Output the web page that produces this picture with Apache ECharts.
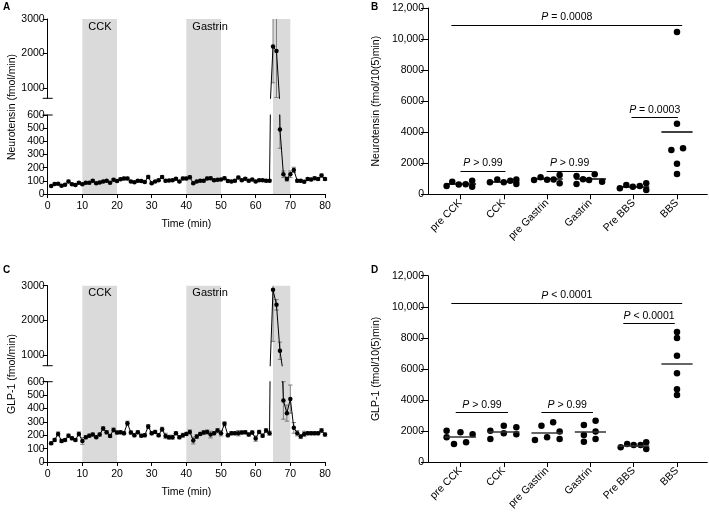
<!DOCTYPE html>
<html><head><meta charset="utf-8">
<script src="https://cdn.jsdelivr.net/npm/echarts@6/dist/echarts.min.js"></script>
<style>html,body{margin:0;padding:0;background:#fff}#c{width:709px;height:514px}</style>
</head><body><div id="c"></div>
<script>
// ---------- DATA ----------
const timeMin = []; for (let t = 1; t <= 80; t++) timeMin.push(t);
const ntValues = [60,76,78,62,70,95,75,68,85,75, 85,85,100,82,88,95,100,85,108,98,
  112,118,118,95,90,100,98,92,130,82, 95,105,130,100,102,105,115,95,118,118,
  128,82,95,100,100,118,120,105,108,110, 120,98,95,100,125,105,115,100,110,95,
  105,105,100,100,2200,2075,490,150,113,150, 183,100,100,93,113,110,120,113,140,113];
const ntSem = [6,8,8,6,8,10,8,6,8,8, 8,8,10,8,8,8,8,8,10,8,
  10,10,10,8,8,8,8,8,12,8, 8,8,10,8,8,8,10,8,10,10,
  12,8,8,8,8,10,10,8,8,8, 10,8,8,8,10,8,10,8,8,8,
  8,8,8,8,1050,1350,143,25,15,25, 20,10,10,8,10,10,10,10,12,10];
const glpValues = [140,165,210,157,165,197,177,165,210,157, 185,197,205,185,205,250,222,195,240,220,
  222,215,290,220,200,222,197,200,265,215, 225,200,245,195,185,185,215,185,200,210,
  225,160,190,210,220,225,205,215,235,215, 285,200,215,215,215,220,222,205,220,175,
  225,197,235,215,2880,2450,1130,460,365,470, 255,215,190,210,215,215,215,215,235,205];
const glpSem = [10,12,15,12,10,12,12,10,15,25, 12,12,12,10,12,15,12,12,15,12,
  12,12,15,12,12,12,10,12,15,12, 12,12,15,20,15,15,12,12,15,12,
  15,25,15,12,15,15,25,12,15,20, 15,12,12,12,20,12,12,12,12,20,
  12,12,15,15,1480,150,250,140,60,105, 40,20,15,20,12,12,12,12,15,12];
const stimLabels = ['CCK','Gastrin',''];
const stimStart = [10,40,65];
const stimEnd = [20,50,70];

const catNames = ['pre CCK','CCK','pre Gastrin','Gastrin','Pre BBS','BBS'];
const ntGroups = [
  [540,815,630,655,870,480],
  [770,960,780,870,960,670],
  [920,1100,930,950,1250,710],
  [1180,670,970,920,1290,815],
  [390,600,490,530,710,280],
  [10450,4540,2860,2970,1960,1310]];
const ntJitter = [
  [-0.32,-0.19,-0.04,0.12,0.27,0.27],
  [-0.32,-0.15,0,0.15,0.29,0.29],
  [-0.3,-0.15,0,0.15,0.29,0.29],
  [-0.32,-0.32,-0.17,-0.03,0.1,0.27],
  [-0.32,-0.17,-0.02,0.14,0.29,0.29],
  [0,0,-0.13,0.14,0,0]];
const glpGroups = [
  [2020,1590,1160,1910,1270,1790],
  [2020,1480,2340,1850,2240,1780],
  [1420,2340,1590,2560,1960,1480],
  [2390,1740,1310,2660,1960,1480],
  [950,1160,1100,1100,1270,840],
  [8370,7980,6840,5720,4690,4320]];
const glpJitter = [
  [-0.32,-0.32,-0.15,0,0.13,0.28],
  [-0.31,-0.31,0,0,0.29,0.29],
  [-0.28,-0.13,0,0.14,0.29,0.29],
  [-0.15,-0.15,-0.15,0.12,0.12,0.12],
  [-0.3,-0.15,0,0.16,0.29,0.29],
  [0,0,0,0,0,0]];
const ntBrackets = [[0.79,6.12,10920,'= 0.0008'],[4.95,6.02,4940,'= 0.0003'],[1.0,2.04,1510,'> 0.99'],[2.99,4.05,1510,'> 0.99']];
const glpBrackets = [[0.79,6.12,10235,'< 0.0001'],[4.76,5.95,8945,'< 0.0001'],[0.89,2.1,3180,'> 0.99'],[2.87,4.06,3180,'> 0.99']];

// ---------- CHART ----------
const FONT = 'Liberation Sans';
const FS = 10.5;
const chart = echarts.init(document.getElementById('c'), null, {renderer:'canvas'});

const L = 47.7, W = 277.3;
const panelsT = [
  {up:{top:19,h:79.3}, low:{top:115,h:79}, vals:ntValues, sem:ntSem},
  {up:{top:285.7,h:80}, low:{top:381.7,h:80.3}, vals:glpValues, sem:glpSem}
];
const panelsS = [
  {top:8, groups:ntGroups, jit:ntJitter, br:ntBrackets, name:'Neurotensin (fmol/10(5)min)', meanColor:'#000'},
  {top:275.7, groups:glpGroups, jit:glpJitter, br:glpBrackets, name:'GLP-1 (fmol/10(5)min)', meanColor:'#333'}
];

const grid = [], xAxis = [], yAxis = [], series = [], graphic = [];
const axLine = {show:true, lineStyle:{color:'#000', width:1}};
const lbl = {color:'#000', fontFamily:FONT, fontSize:FS};

function errRender(params, api) {
  const x = api.value(0), y = api.value(1), e = api.value(2);
  if (!e) return null;
  const cs = params.coordSys;
  const p = api.coord([x, y]);
  const hi = api.coord([x, y + e])[1], lo = api.coord([x, y - e])[1];
  const top = cs.y, bot = cs.y + cs.height;
  const y1 = Math.max(hi, top), y2 = Math.min(lo, bot);
  if (y1 >= y2) return null;
  const st = {stroke:'#666', lineWidth:0.8};
  const ch = [{type:'line', shape:{x1:p[0],y1:y1,x2:p[0],y2:y2}, style:st}];
  if (hi >= top && hi <= bot) ch.push({type:'line', shape:{x1:p[0]-2.2,y1:hi,x2:p[0]+2.2,y2:hi}, style:st});
  if (lo >= top && lo <= bot) ch.push({type:'line', shape:{x1:p[0]-2.2,y1:lo,x2:p[0]+2.2,y2:lo}, style:st});
  return {type:'group', children:ch};
}

panelsT.forEach((P, k) => {
  const gBg = grid.length;
  const bgTop = P.up.top, bgH = P.low.top + P.low.h - P.up.top;
  grid.push({left:L, width:W, top:bgTop, height:bgH});
  grid.push({left:L, width:W, top:P.up.top, height:P.up.h});
  grid.push({left:L, width:W, top:P.low.top, height:P.low.h});
  xAxis.push({type:'value', gridIndex:gBg, min:0, max:80, show:false});
  yAxis.push({type:'value', gridIndex:gBg, min:0, max:1, show:false});
  xAxis.push({type:'value', gridIndex:gBg+1, min:0, max:80, show:false});
  yAxis.push({type:'value', gridIndex:gBg+1, min:700, max:3000, splitLine:{show:false},
    axisLine:axLine, axisTick:{show:true, length:5, lineStyle:{color:'#000'}, customValues:[1000,2000,3000]},
    axisLabel:Object.assign({margin:3, customValues:[1000,2000,3000], formatter:v => String(v)}, lbl)});
  xAxis.push({type:'value', gridIndex:gBg+2, min:0, max:80, interval:10, splitLine:{show:false},
    axisLine:axLine, axisTick:{show:true, length:4, lineStyle:{color:'#000'}},
    axisLabel:Object.assign({margin:7}, lbl),
    name:'Time (min)', nameLocation:'middle', nameGap:25, nameTextStyle:lbl});
  yAxis.push({type:'value', gridIndex:gBg+2, min:0, max:600, interval:100, splitLine:{show:false},
    axisLine:axLine, axisTick:{show:true, length:5, lineStyle:{color:'#000'}},
    axisLabel:Object.assign({margin:3}, lbl)});

  const areas = stimStart.map((s, i) => [
    {xAxis:s, name:stimLabels[i]}, {xAxis:stimEnd[i]}]);
  series.push({type:'line', xAxisIndex:gBg, yAxisIndex:gBg, data:[[0,0]], symbol:'none',
    lineStyle:{opacity:0}, silent:true, z:0,
    markArea:{silent:true, itemStyle:{color:'#dadada'},
      label:{show:true, position:'insideTopLeft', distance:5, offset:[1,-3], color:'#000', fontFamily:FONT, fontSize:11},
      data:areas}});
  const d = timeMin.map((t, i) => [t, P.vals[i]]);
  const de = timeMin.map((t, i) => [t, P.vals[i], P.sem[i]]);
  [gBg+1, gBg+2].forEach(gi => {
    series.push({type:'custom', xAxisIndex:gi, yAxisIndex:gi, renderItem:errRender,
      dimensions:['x','y','e'], encode:{x:0, y:1}, data:de, silent:true, z:2});
    series.push({type:'line', xAxisIndex:gi, yAxisIndex:gi, data:d, clip:true,
      symbol:'circle', symbolSize:4.5, itemStyle:{color:'#000', opacity:1},
      lineStyle:{color:'#000', width:1}, silent:true, animation:false, z:3});
  });
  const yb1 = P.up.top + P.up.h, yb2 = P.low.top;
  graphic.push({type:'line', shape:{x1:L-5, y1:yb1, x2:L+5, y2:yb1}, style:{stroke:'#000', lineWidth:1}});
  graphic.push({type:'line', shape:{x1:L-5, y1:yb2, x2:L+5, y2:yb2}, style:{stroke:'#000', lineWidth:1}});
});

const SL = 428, SW = 279.3, SH = 186.3;
function fmtK(v){ return v >= 10000 ? String(v).replace(/\B(?=(\d{3})+(?!\d))/g, ',') : String(v); }
panelsS.forEach((P, k) => {
  const gi = grid.length;
  grid.push({left:SL, width:SW, top:P.top, height:SH});
  xAxis.push({type:'value', gridIndex:gi, min:0.25, max:6.7, splitLine:{show:false},
    axisLine:axLine,
    axisTick:{show:true, length:5, lineStyle:{color:'#000'}, customValues:[1,2,3,4,5,6]},
    axisLabel:Object.assign({margin:7, rotate:45, customValues:[1,2,3,4,5,6],
      formatter:v => catNames[Math.round(v)-1] || ''}, lbl)});
  yAxis.push({type:'value', gridIndex:gi, min:0, max:12000, interval:2000, splitLine:{show:false},
    axisLine:axLine, axisTick:{show:true, length:7, lineStyle:{color:'#000'}},
    axisLabel:Object.assign({margin:4, formatter:fmtK}, lbl),
    name:P.name, nameLocation:'middle', nameGap:46, nameTextStyle:lbl});
  const pts = [];
  P.groups.forEach((g, ci) => g.forEach((v, j) => pts.push([ci + 1 + P.jit[ci][j], v])));
  const mls = [];
  P.groups.forEach((g, ci) => {
    const m = g.reduce((a, b) => a + b, 0) / g.length;
    mls.push([{coord:[ci + 1 - 0.36, m], lineStyle:{color:P.meanColor, width:1.5, type:'solid'}, label:{show:false}},
              {coord:[ci + 1 + 0.36, m]}]);
  });
  P.br.forEach(b => {
    mls.push([{coord:[b[0], b[2]], lineStyle:{color:'#000', width:1, type:'solid'},
      label:{show:true, position:'middle', distance:2, formatter:'{i|P} ' + b[3],
        color:'#000', fontFamily:FONT, fontSize:FS,
        rich:{i:{fontStyle:'italic', color:'#000', fontFamily:FONT, fontSize:FS}}}},
      {coord:[b[1], b[2]]}]);
  });
  series.push({type:'line', xAxisIndex:gi, yAxisIndex:gi, data:[], symbol:'none', silent:true, z:1,
    markLine:{silent:true, symbol:['none','none'], animation:false,
      lineStyle:{type:'solid', color:'#000', width:1}, data:mls}});
  series.push({type:'scatter', xAxisIndex:gi, yAxisIndex:gi, data:pts, symbol:'circle', symbolSize:6.5,
    itemStyle:{color:'#000', opacity:1}, silent:true, z:3});
});

const letters = [['A',3,2],['B',371,2],['C',3,265],['D',371,265]];
letters.forEach(l => graphic.push({type:'text', x:l[1], y:l[2],
  style:{text:l[0], fill:'#000', font:'bold 10px ' + FONT}}));
graphic.push({type:'text', x:12, y:107, rotation:Math.PI/2,
  style:{text:'Neurotensin (fmol/min)', fill:'#000', font:FS + 'px ' + FONT, align:'center', verticalAlign:'middle'}});
graphic.push({type:'text', x:12, y:374, rotation:Math.PI/2,
  style:{text:'GLP-1 (fmol/min)', fill:'#000', font:FS + 'px ' + FONT, align:'center', verticalAlign:'middle'}});

chart.setOption({
  animation:false,
  textStyle:{fontFamily:FONT},
  grid, xAxis, yAxis, series, graphic
});
</script></body></html>
